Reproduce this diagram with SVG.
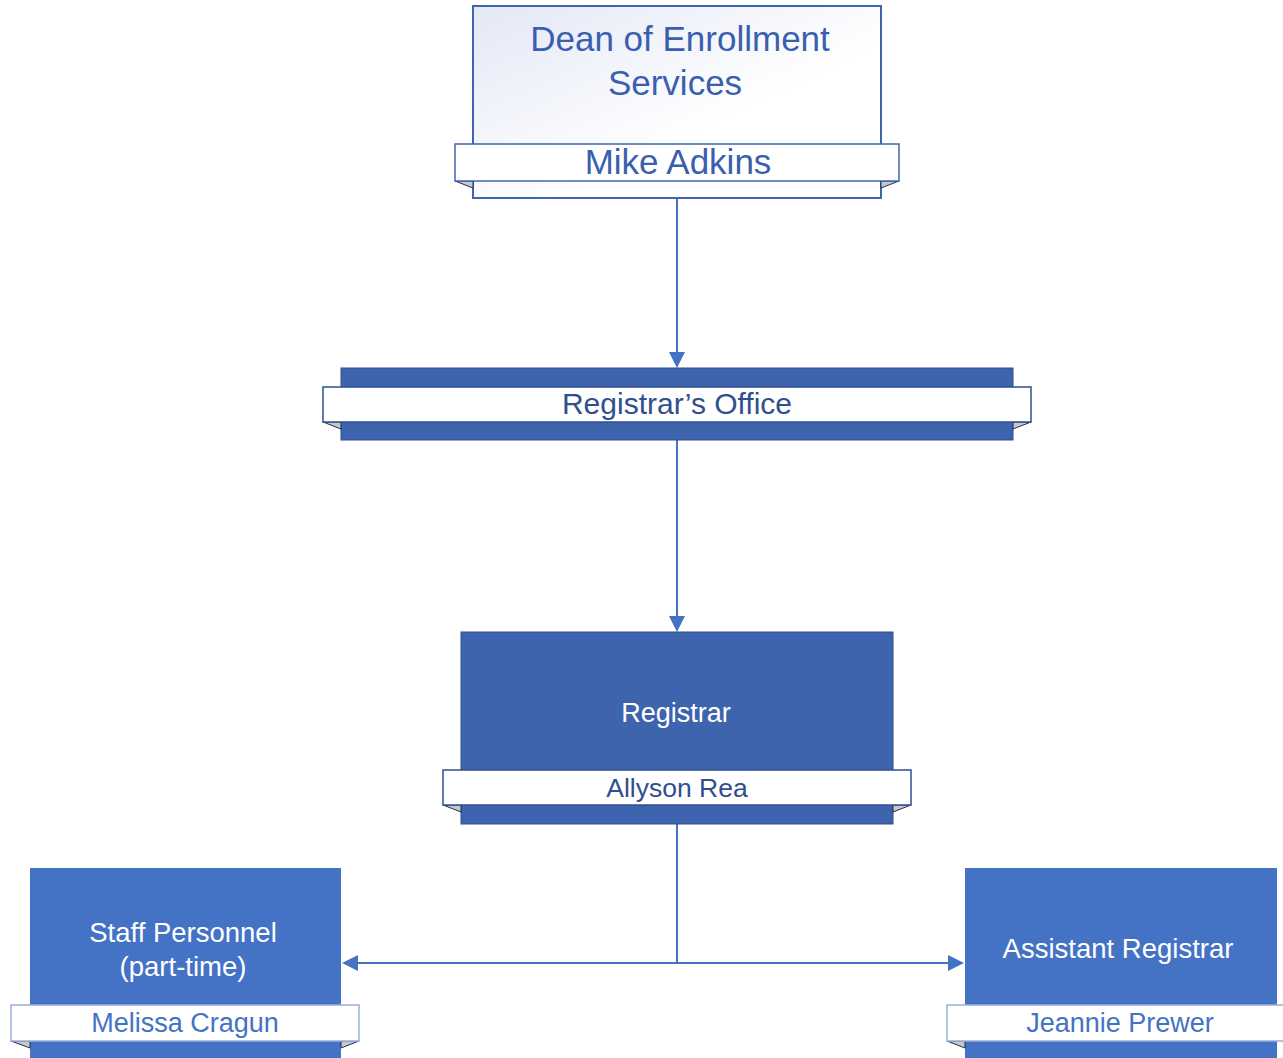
<svg xmlns="http://www.w3.org/2000/svg" width="1283" height="1058" viewBox="0 0 1283 1058">
  <defs>
    <linearGradient id="deanGrad" x1="0" y1="0" x2="1" y2="1">
      <stop offset="0" stop-color="#e3e8f6"/>
      <stop offset="0.6" stop-color="#ffffff"/>
      <stop offset="1" stop-color="#ffffff"/>
    </linearGradient>
  </defs>
  <style>
    text { font-family: "Liberation Sans", Arial, sans-serif; text-anchor: middle; }
    .banner { fill: #ffffff; stroke-width: 1.5; }
    .ear { fill: #c8c8c8; stroke: #1f2f50; stroke-width: 1; }
    .conn { fill: none; stroke: #4472c4; stroke-width: 2; }
    .head { fill: #4472c4; }
    .white { fill: #ffffff; }
  </style>

  <g id="connectors">
    <path class="conn" d="M677,198 V352"/>
    <polygon class="head" points="669,352 685,352 677,368"/>
    <path class="conn" d="M677,440 V616"/>
    <polygon class="head" points="669,616 685,616 677,632"/>
    <path class="conn" d="M677,824 V963"/>
    <path class="conn" d="M358,963 H948"/>
    <polygon class="head" points="358,955 358,971 342,963"/>
    <polygon class="head" points="948,955 948,971 964,963"/>
  </g>

  <g id="dean">
    <rect x="473" y="6" width="408" height="192" fill="url(#deanGrad)" stroke="#3f65ae" stroke-width="2"/>
    <polygon class="ear" points="455,181 473,181 473,188"/>
    <polygon class="ear" points="899,181 881,181 881,188"/>
    <rect class="banner" x="455" y="144" width="444" height="37" stroke="#3f65ae"/>
    <text x="680" y="51" font-size="35" fill="#3a5fae">Dean of Enrollment</text>
    <text x="675" y="95" font-size="35" fill="#3a5fae">Services</text>
    <text x="678" y="174" font-size="35" fill="#3a5fae">Mike Adkins</text>
  </g>

  <g id="registrars-office">
    <rect x="341" y="368" width="672" height="72" fill="#3d64ad" stroke="#2f4f8f" stroke-width="1"/>
    <polygon class="ear" points="323,422 341,422 341,429"/>
    <polygon class="ear" points="1031,422 1013,422 1013,429"/>
    <rect class="banner" x="323" y="387" width="708" height="35" stroke="#2f4f8f"/>
    <text x="677" y="414" font-size="30" fill="#2f4f8f">Registrar’s Office</text>
  </g>

  <g id="registrar">
    <rect x="461" y="632" width="432" height="192" fill="#3d64ad" stroke="#2f4f8f" stroke-width="1"/>
    <polygon class="ear" points="443,805 461,805 461,812"/>
    <polygon class="ear" points="911,805 893,805 893,812"/>
    <rect class="banner" x="443" y="770" width="468" height="35" stroke="#2f4f8f"/>
    <text class="white" x="676" y="722" font-size="27">Registrar</text>
    <text x="677" y="797" font-size="26.5" fill="#2f4f8f">Allyson Rea</text>
  </g>

  <g id="staff-personnel">
    <rect x="30" y="868" width="311" height="192" fill="#4472c4"/>
    <polygon class="ear" points="11,1041 30,1041 30,1048"/>
    <polygon class="ear" points="359,1041 341,1041 341,1048"/>
    <rect class="banner" x="11" y="1005" width="348" height="36" stroke="#9aaed6" stroke-width="1"/>
    <text class="white" x="183" y="942" font-size="27.5">Staff Personnel</text>
    <text class="white" x="183" y="976" font-size="27.5">(part-time)</text>
    <text x="185" y="1032" font-size="27" fill="#4472c4">Melissa Cragun</text>
  </g>

  <g id="assistant-registrar">
    <rect x="965" y="868" width="312" height="192" fill="#4472c4"/>
    <polygon class="ear" points="947,1041 965,1041 965,1048"/>
    <rect class="banner" x="947" y="1005" width="345" height="36" stroke="#9aaed6" stroke-width="1"/>
    <text class="white" x="1118" y="958" font-size="27.5">Assistant Registrar</text>
    <text x="1120" y="1032" font-size="27" fill="#4472c4">Jeannie Prewer</text>
  </g>
</svg>
